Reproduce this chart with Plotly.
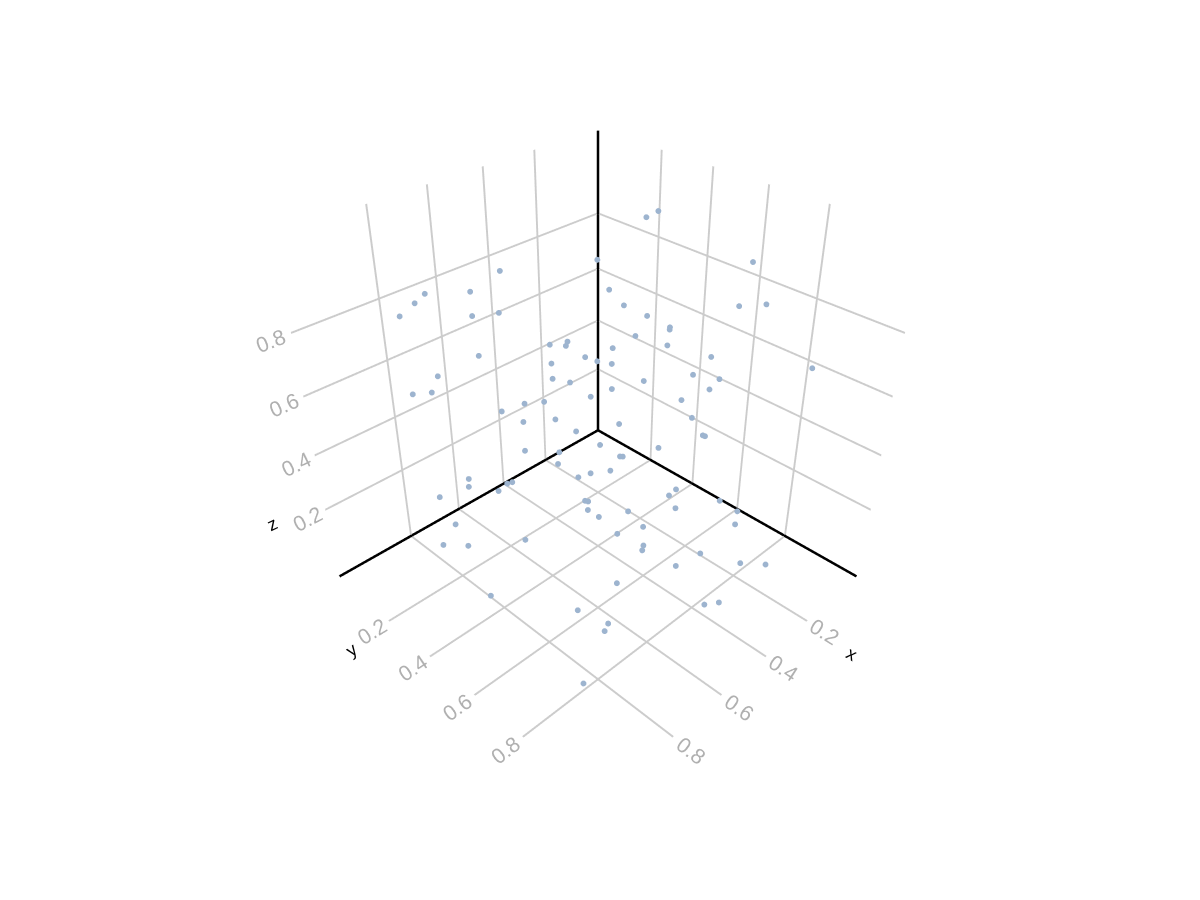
import plotly.graph_objects as go
x=[.895,.851,.810,.686,.725,.568,.648,.762,.553,.495,.506,.465,.577,.251,.432,.103,.075,.113,.300,.316,.316,.222,.197,.319,.322,.361,.351,.397,.331,.422,.122,.843,.890,.856,.596,.548,.503,.677,.634,.725,.681,.609,.559,.682,.603,.533,.629,.631,.609,.802,.805,.728,.719,.751,.863,.667,.665,.681,.680,.858,.803,.423,.460,.360,.313,.331,.377,.357,.476,.334,.333,.412,.503,.496,.561,.411,.444,.449,.298,.261,.290,.591,.577,.660,.903,.876,.923,.608,.619,.548,.452,.338,.251,.743,.518,.466,.854,.825,.845,.944]
y=[.172,.181,.171,.202,.254,.187,.271,.318,.366,.375,.380,.414,.397,.248,.429,.302,.323,.701,.345,.419,.508,.748,.816,.595,.597,.507,.616,.455,.752,.476,.932,.239,.181,.222,.421,.439,.474,.394,.426,.353,.390,.442,.472,.392,.448,.541,.470,.554,.580,.280,.281,.361,.373,.348,.215,.617,.627,.642,.683,.273,.519,.599,.514,.718,.771,.754,.697,.721,.559,.745,.752,.652,.590,.594,.609,.723,.726,.756,.795,.834,.851,.707,.751,.733,.266,.351,.501,.782,.788,.850,.857,.916,.945,.813,.935,.946,.779,.862,.869,.891]
z=[.871,.896,.905,.878,.839,.894,.826,.759,.728,.718,.711,.672,.691,.843,.651,.947,.964,.940,.798,.781,.781,.865,.886,.780,.775,.735,.745,.690,.757,.658,.710,.697,.635,.644,.661,.636,.585,.605,.606,.583,.545,.544,.494,.449,.432,.469,.416,.415,.431,.354,.328,.341,.348,.320,.286,.388,.390,.378,.377,.215,.272,.656,.609,.700,.689,.657,.618,.562,.521,.504,.504,.454,.439,.437,.430,.345,.343,.317,.281,.243,.221,.359,.322,.336,.160,.192,.130,.293,.286,.224,.214,.143,.101,.264,.116,.096,.219,.209,.201,.100]
tick_values=[0.2,0.4,0.6,0.8]
tick_labels=["0.2","0.4","0.6","0.8"]
axis_min,axis_max=-0.07,1.08
line_start=axis_min+0.003
line_end=axis_max-0.003
def A():
    return dict(range=[axis_min,axis_max],tickvals=tick_values,ticktext=tick_labels,showline=False,zeroline=False,showbackground=False,gridcolor="rgb(204,204,204)",gridwidth=4,ticks="",showspikes=False,title=dict(text=""),tickfont=dict(color="#b0b0b0",size=16,family="Liberation Sans"))
def label(t,px,py,ang):
    return dict(text=t,xref="paper",yref="paper",x=px,y=py,showarrow=False,textangle=ang,font=dict(color="black",size=18,family="Liberation Sans"))
fig=go.Figure(go.Scatter3d(x=x,y=y,z=z,mode="markers",marker=dict(size=3.4,color="#9db4cf"),showlegend=False))
for lx,ly,lz in [([line_start,line_end],[line_start]*2,[line_start]*2),([line_start]*2,[line_start,line_end],[line_start]*2),([line_start]*2,[line_start]*2,[line_start,line_end])]:
    fig.add_trace(go.Scatter3d(x=lx,y=ly,z=lz,mode="lines",line=dict(color="black",width=5),showlegend=False,hoverinfo="skip"))
fig.update_layout(width=1200,height=900,margin=dict(l=60,r=80,t=0,b=55),template=None,paper_bgcolor="white",
 scene=dict(xaxis=A(),yaxis=A(),zaxis=A(),aspectmode="cube",camera=dict(eye=dict(x=1.46,y=1.46,z=1.40),center=dict(x=0,y=0,z=-0.016))),
 annotations=[label("x",0.750,0.219,30),label("y",0.256,0.224,-35),label("z",0.183,0.389,-25)])
fig.write_html("out.html")
